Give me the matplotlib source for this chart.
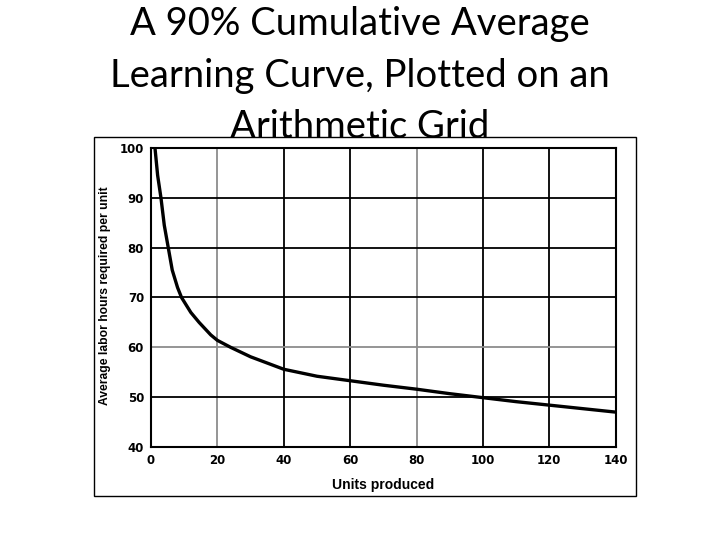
import matplotlib
matplotlib.use("Agg")
import matplotlib.pyplot as plt
from matplotlib.patches import Rectangle

# values
units = [1.2, 2, 3, 4, 5.2, 6.4, 8, 9.2, 12, 14.5, 18, 20, 24, 30, 40, 50, 60, 70, 80, 90, 100, 110, 120, 130, 140]
hours = [100, 94.5, 90, 84.5, 80, 75.5, 72, 70, 67, 65, 62.5, 61.4, 60, 58.1, 55.6, 54.2, 53.3, 52.4, 51.6, 50.7, 49.9, 49.1, 48.4, 47.7, 47.0]

x_ticks = [0, 20, 40, 60, 80, 100, 120, 140]
y_ticks = [40, 50, 60, 70, 80, 90, 100]
light_x = [20, 80]
light_y = [60]

title_lines = ["A 90% Cumulative Average", "Learning Curve, Plotted on an", "Arithmetic Grid"]
title_baselines = [35, 87, 138]   # px from top

fig = plt.figure(figsize=(7.2, 5.4), dpi=100)
fig.patch.set_facecolor("white")

# title, three centred lines
for line, yb in zip(title_lines, title_baselines):
    fig.text(0.5, 1 - yb / 540, line, ha="center", va="baseline",
             fontsize=27.5, family="Lato", color="black")

# frame of the scanned figure
fig.patches.append(Rectangle((94 / 720, 1 - 496 / 540), 542 / 720, 359 / 540,
                             transform=fig.transFigure, fill=False,
                             edgecolor="black", linewidth=1.0))

ax = fig.add_axes([151 / 720, 1 - 447 / 540, 464.7 / 720, 299 / 540])
ax.set_xlim(0, 140)
ax.set_ylim(40, 100)

for xv in x_ticks[1:]:
    c = "#8c8c8c" if xv in light_x else "black"
    ax.axvline(xv, color=c, linewidth=1.3, zorder=1)
for yv in y_ticks[1:]:
    c = "#8c8c8c" if yv in light_y else "black"
    ax.axhline(yv, color=c, linewidth=1.3, zorder=1)

ax.plot(units, hours, color="black", linewidth=2.4, zorder=3)

for s in ax.spines.values():
    s.set_linewidth(1.5)
ax.set_xticks(x_ticks)
ax.set_yticks(y_ticks)
ax.tick_params(length=0, labelsize=8.5, pad=5)
for lab in ax.get_xticklabels() + ax.get_yticklabels():
    lab.set_family("DejaVu Sans")
    lab.set_fontweight("bold")

ax.set_xlabel("Units produced", fontsize=10, fontweight="bold", family="Liberation Sans", labelpad=8)
fig.text(105 / 720, 1 - 296 / 540, "Average labor hours required per unit", rotation=90,
         ha="center", va="center", fontsize=8.7, fontweight="bold", family="Liberation Sans")

fig.savefig("out.png", dpi=100)
